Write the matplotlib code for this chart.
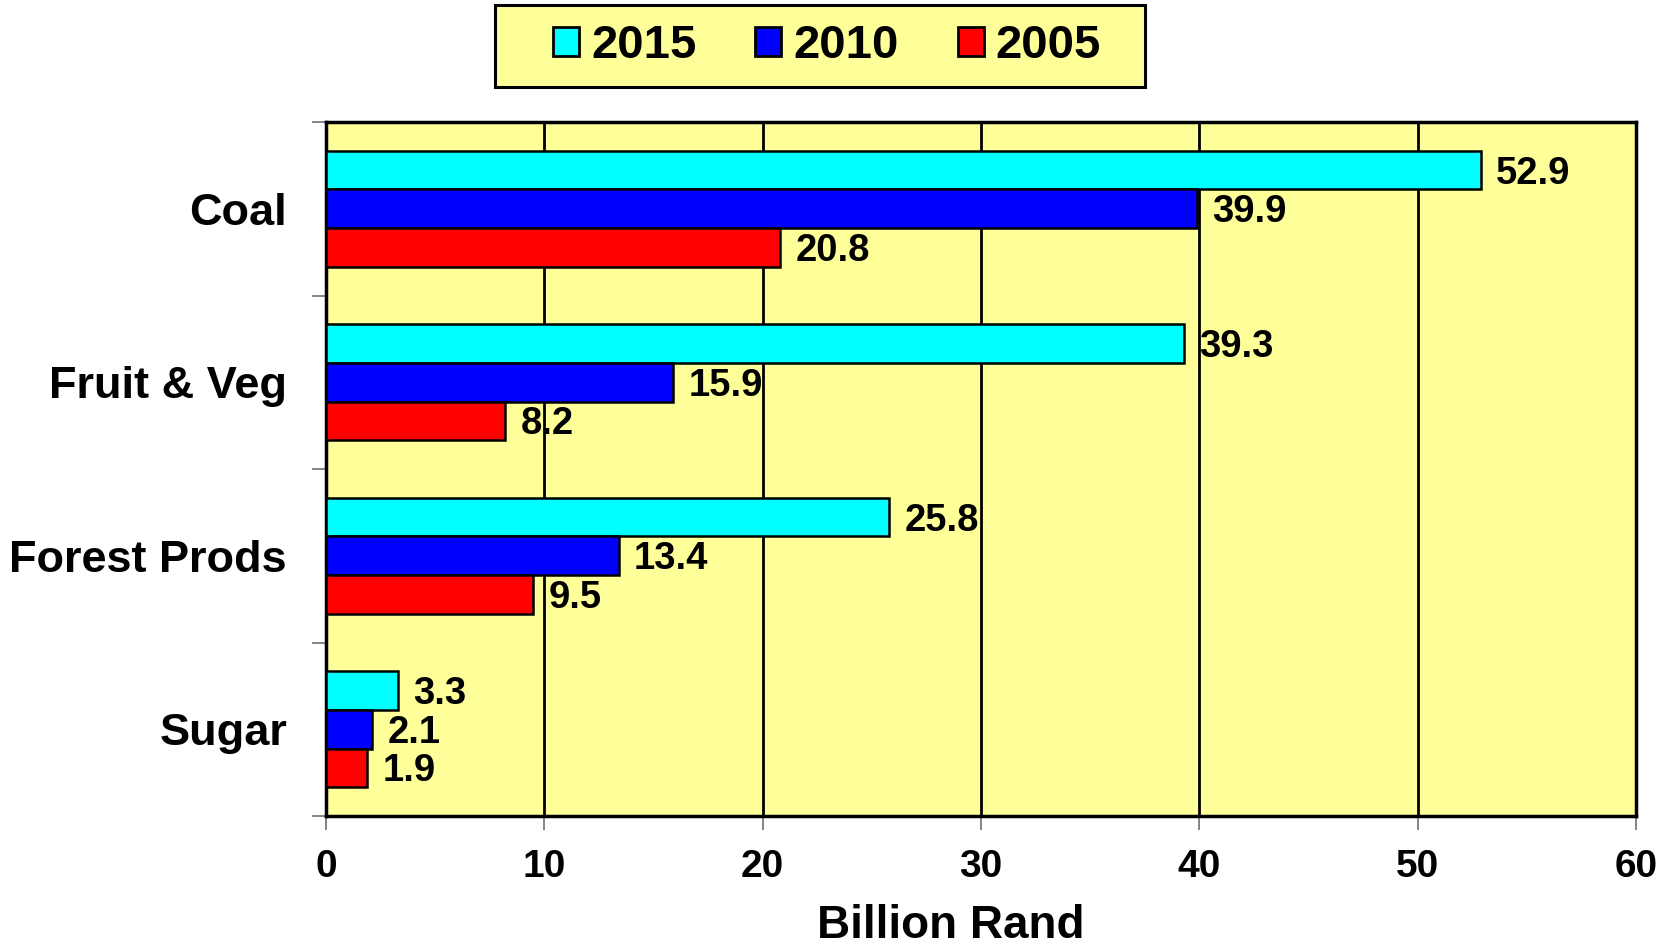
import numpy as np
import matplotlib.pyplot as plt
from matplotlib.patches import Patch, Rectangle

categories = ['Coal', 'Fruit & Veg', 'Forest Prods', 'Sugar']
years = ['2015', '2010', '2005']
v2015 = [52.9, 39.3, 25.8, 3.3]
v2010 = [39.9, 15.9, 13.4, 2.1]
v2005 = [20.8, 8.2, 9.5, 1.9]
colors = ['#00FFFF', '#0000FF', '#FF0000']

plt.rcParams['font.family'] = ['Liberation Sans', 'DejaVu Sans']
plt.rcParams['font.weight'] = 'bold'

W, H = 1667, 947
fig = plt.figure(figsize=(W / 100, H / 100), dpi=100)
ax = fig.add_axes([326 / W, 1 - 816 / H, 1310 / W, 694 / H])
ax.set_facecolor('#FFFF99')

y = np.arange(len(categories))
h = 0.222
series = [v2015, v2010, v2005]
for k, vals in enumerate(series):
    pos = y + (k - 1) * h
    ax.barh(pos, vals, height=h, color=colors[k], edgecolor='black',
            linewidth=1.8, zorder=3)
    for p, v in zip(pos, vals):
        ax.text(v + 0.7, p + 0.02, f'{v:.1f}', va='center', ha='left',
                fontsize=27.5, fontweight='bold', zorder=4)

ax.set_xlim(0, 60)
ax.set_ylim(len(categories) - 0.5, -0.5)
ax.set_xticks(np.arange(0, 61, 10))
ax.tick_params(axis='x', labelsize=28, direction='out', length=10,
               width=1.2, color='#707070', pad=14)
ax.set_yticks(y)
ax.set_yticklabels(categories, fontsize=32.5, fontweight='bold')
ax.tick_params(axis='y', length=0, pad=28)
ax.set_yticks(np.arange(-0.5, len(categories), 1), minor=True)
ax.tick_params(axis='y', which='minor', length=10, width=1.2,
               color='#707070', direction='out')
for lab in ax.get_xticklabels():
    lab.set_fontweight('bold')

ax.xaxis.grid(True, color='black', linewidth=2, zorder=1)
ax.set_axisbelow(True)
for s in ax.spines.values():
    s.set_linewidth(2.5)
    s.set_color('black')

# reference crops this label at the bottom edge; keep it just inside
ax.set_xlabel('Billion Rand', fontsize=33, fontweight='bold')
ax.xaxis.set_label_coords(0.477, -0.127)

# legend box
fig.patches.append(Rectangle((495 / W, 1 - 87 / H), 650 / W, 82 / H,
                             transform=fig.transFigure, facecolor='#FFFF99',
                             edgecolor='black', linewidth=2.2, zorder=0))
handles = [Patch(facecolor=c, edgecolor='black', linewidth=2) for c in colors]
leg = fig.legend(handles, years, loc='center',
                 bbox_to_anchor=(827 / W, 1 - 46 / H), ncol=3,
                 fontsize=34, frameon=False,
                 handlelength=0.55, handleheight=0.55, handletextpad=0.25,
                 columnspacing=1.25)
for t in leg.get_texts():
    t.set_fontweight('bold')

fig.savefig('out.png', dpi=100)
